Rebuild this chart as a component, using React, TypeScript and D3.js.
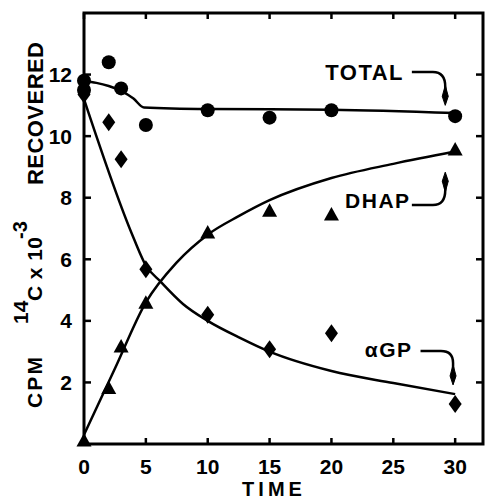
import React from 'react';
import * as d3 from 'd3';

// Measured points
const totalTimes = [0, 0, 2, 3, 5, 10, 15, 20, 30];
const totalValues = [11.8, 11.5, 12.4, 11.55, 10.36, 10.84, 10.6, 10.84, 10.65];
const dhapTimes = [0, 2, 3, 5, 10, 15, 20, 30];
const dhapValues = [0.1, 1.8, 3.15, 4.57, 6.85, 7.56, 7.44, 9.55];
const agpTimes = [0, 2, 3, 5, 10, 15, 20, 30];
const agpValues = [11.35, 10.45, 9.25, 5.68, 4.2, 3.08, 3.6, 1.3];

// Drawn curves
const totalFitTimes = [0, 1, 2, 3, 4, 4.85, 10, 20, 30];
const totalFitValues = [11.78, 11.73, 11.63, 11.47, 11.22, 10.93, 10.88, 10.86, 10.75];
const dhapFitTimes = [0, 2.5, 5, 7.5, 10, 12.5, 15, 20, 25, 30];
const dhapFitValues = [0.3, 2.45, 4.6, 5.9, 6.8, 7.4, 7.92, 8.64, 9.1, 9.5];
const agpFitTimes = [0, 4, 5, 6.2, 8, 10, 12.65, 15, 20, 25, 30];
const agpFitValues = [11.2, 6.7, 5.8, 5.27, 4.55, 4.0, 3.44, 3.0, 2.37, 1.98, 1.62];

const xTicks = [0, 5, 10, 15, 20, 25, 30];
const yTicks = [2, 4, 6, 8, 10, 12];

// Annotation labels
const labelNames = ['TOTAL', 'DHAP', '\u03B1GP'];
const labelT = [19.5, 21.1, 22.7];
const labelV = [11.82, 7.66, 2.83];
const connStartT = [26.5, 26.5, 27.2];
const connMidT = [28.2, 28.2, 28.85];
const connEndT = [29.2, 29.2, 29.83];
const connLineV = [12.08, 7.76, 3.02];
const connBendV = [11.6, 8.25, 2.63];
const connTipV = [11.0, 8.83, 1.92];

const W = 489, H = 499;
const FONT = '"Liberation Sans", Arial, sans-serif';

export default function App() {
  const x = d3.scaleLinear().domain([0, 32.25]).range([84, 483]);
  const y = d3.scaleLinear().domain([0, 14]).range([444, 13]);
  const [x0, x1] = x.range();
  const [y0, y1] = y.range();

  const line = (ts: number[], vs: number[]) =>
    d3.line<number>().x((_, i) => x(ts[i])).y((_, i) => y(vs[i])).curve(d3.curveMonotoneX)(ts) || '';

  const tri = (cx: number, cy: number) => `M${cx},${cy - 8}L${cx + 7.5},${cy + 5.5}L${cx - 7.5},${cy + 5.5}Z`;
  const dia = (cx: number, cy: number) => `M${cx},${cy - 9}L${cx + 6.5},${cy}L${cx},${cy + 9}L${cx - 6.5},${cy}Z`;

  return (
    <svg width={W} height={H} style={{ position: 'absolute', left: 0, top: 0, background: '#fff' }}
      fontFamily={FONT} fontWeight="bold">
      <rect x={0} y={0} width={W} height={H} fill="#fff" />
      {/* frame */}
      <rect x={x0} y={y1} width={x1 - x0} height={y0 - y1} fill="none" stroke="#000" strokeWidth={3} />
      {/* ticks */}
      {xTicks.map(t => (
        <g key={'xt' + t}>
          <line x1={x(t)} x2={x(t)} y1={y0} y2={y0 - 6} stroke="#000" strokeWidth={2.5} />
          <line x1={x(t)} x2={x(t)} y1={y1} y2={y1 + 6} stroke="#000" strokeWidth={2.5} />
          <text x={x(t)} y={474} textAnchor="middle" fontSize={21}>{t}</text>
        </g>
      ))}
      {yTicks.map(v => (
        <g key={'yt' + v}>
          <line x1={x0} x2={x0 + 7} y1={y(v)} y2={y(v)} stroke="#000" strokeWidth={2.5} />
          <line x1={x1} x2={x1 - 7} y1={y(v)} y2={y(v)} stroke="#000" strokeWidth={2.5} />
          <text x={72} y={y(v) + 7.5} textAnchor="end" fontSize={21}>{v}</text>
        </g>
      ))}
      <text x={274} y={496} textAnchor="middle" fontSize={20} letterSpacing={4}>TIME</text>

      {/* y axis label, rotated */}
      <text transform="translate(42,408) rotate(-90)" fontSize={21} textLength={51} lengthAdjust="spacing">CPM</text>
      <text transform="translate(28,324) rotate(-90)" fontSize={21}>14</text>
      <text transform="translate(42,301) rotate(-90)" fontSize={21} textLength={64} lengthAdjust="spacing">C x 10</text>
      <text transform="translate(27,239) rotate(-90)" fontSize={20}>-3</text>
      <text transform="translate(43,185) rotate(-90)" fontSize={22} textLength={143} lengthAdjust="spacing">RECOVERED</text>

      {/* curves */}
      <path d={line(totalFitTimes, totalFitValues)} fill="none" stroke="#000" strokeWidth={2.5} />
      <path d={line(dhapFitTimes, dhapFitValues)} fill="none" stroke="#000" strokeWidth={2.5} />
      <path d={line(agpFitTimes, agpFitValues)} fill="none" stroke="#000" strokeWidth={2.5} />

      {/* markers */}
      {totalTimes.map((t, i) => (
        <circle key={'c' + i} cx={x(t)} cy={y(totalValues[i])} r={7} fill="#000" />
      ))}
      {dhapTimes.map((t, i) => (
        <path key={'t' + i} d={tri(x(t), y(dhapValues[i]))} fill="#000" />
      ))}
      {agpTimes.map((t, i) => (
        <path key={'d' + i} d={dia(x(t), y(agpValues[i]))} fill="#000" />
      ))}

      {/* annotations */}
      {labelNames.map((name, i) => {
        const sx = x(connStartT[i]), mx = x(connMidT[i]), ex = x(connEndT[i]);
        const ly = y(connLineV[i]), by = y(connBendV[i]), ty = y(connTipV[i]);
        const dir = ty > ly ? 1 : -1;
        const headLen = 20;
        const hb = ty - dir * headLen;
        const hm = ty - dir * headLen * 0.45;
        return (
          <g key={'a' + i}>
            <text x={x(labelT[i])} y={y(labelV[i])} fontSize={name === 'TOTAL' ? 22 : 21} letterSpacing={1.5}>{name}</text>
            <path d={`M${sx},${ly}H${mx}Q${ex},${ly} ${ex},${by}V${ty - dir * 4}`} fill="none" stroke="#000" strokeWidth={2.5} />
            <path d={`M${ex},${ty}L${ex + 3},${hm}L${ex},${hb}L${ex - 3},${hm}Z`} fill="#000" stroke="#000" strokeWidth={1} />
          </g>
        );
      })}
    </svg>
  );
}
